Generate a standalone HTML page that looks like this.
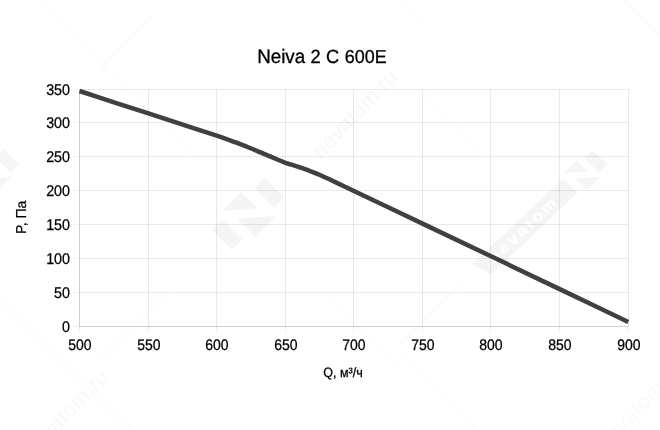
<!DOCTYPE html><html><head><meta charset="utf-8"><title>Neiva 2 C 600E</title><style>html,body{margin:0;padding:0;background:#fff}</style></head><body><svg width="660" height="430" viewBox="0 0 660 430" style="display:block;font-family:'Liberation Sans',Arial,sans-serif;text-rendering:geometricPrecision">
<rect width="660" height="430" fill="#fff"/>
<g><g transform="translate(248,214) rotate(-45) scale(1)"><polygon points="23.0,-14.0 37.5,-14.0 37.5,14.0 23.0,14.0" fill="#f5f5f5"/><polygon points="-37.0,-14.0 -22.0,-14.0 -22.0,14.0 -37.0,14.0" fill="#f5f5f5"/><polygon points="-16.5,-20.5 10.7,-20.5 10.7,2.6" fill="#f5f5f5"/><polygon points="-11.0,-4.5 18.7,21.6 -11.0,21.6" fill="#f5f5f5"/></g><g transform="translate(585,171) scale(1,0.94) rotate(-45)"><polygon points="-150,-9.8 -21.5,-9.8 -21.5,11.4 -144,11.4" fill="#f5f5f5"/><text transform="translate(-134,5.6) scale(1.12,1)" font-size="16" font-weight="bold" letter-spacing="2.4" fill="#fff">nevatom</text><polygon points="9.0,-10.0 20.8,-10.0 20.8,11.0 9.0,11.0" fill="#f5f5f5"/><polygon points="-17.0,-13.6 1.3,-13.6 1.3,2.5" fill="#f5f5f5"/><polygon points="-13.0,-1.8 6.5,15.4 -13.0,15.4" fill="#f5f5f5"/></g><g transform="translate(-4,171) scale(1,1.0) rotate(-45)"><polygon points="9.0,-10.0 20.8,-10.0 20.8,11.0 9.0,11.0" fill="#f5f5f5"/><polygon points="-13.0,-1.8 6.5,15.4 -13.0,15.4" fill="#f5f5f5"/></g><text transform="translate(321,160) scale(1,1.06) rotate(-45)" font-size="21" letter-spacing="0.5" fill="#f7f7f7">nevatom.ru</text><text transform="translate(32,460) scale(1,1.06) rotate(-45)" font-size="21" letter-spacing="0.5" fill="#f8f8f8">nevatom.ru</text><text transform="translate(606,452) scale(1,1.06) rotate(-45)" font-size="21" letter-spacing="0.5" fill="#fafafa">nevatom.ru</text><line x1="37" y1="0" x2="195" y2="158" stroke="#fafafa" stroke-width="1.2"/><line x1="153" y1="16" x2="100" y2="69" stroke="#fafafa" stroke-width="1.2"/><line x1="423" y1="93" x2="488" y2="158" stroke="#fafafa" stroke-width="1.2"/><line x1="398" y1="0" x2="423" y2="25" stroke="#fafafa" stroke-width="1.2"/><line x1="0" y1="300" x2="130" y2="430" stroke="#fafafa" stroke-width="1.2"/><line x1="170" y1="290" x2="100" y2="360" stroke="#fafafa" stroke-width="1.2"/><line x1="400" y1="355" x2="475" y2="430" stroke="#fafafa" stroke-width="1.2"/><line x1="400" y1="345" x2="462" y2="283" stroke="#fafafa" stroke-width="1.2"/><line x1="625" y1="0" x2="660" y2="35" stroke="#fafafa" stroke-width="1.2"/><line x1="330" y1="300" x2="400" y2="370" stroke="#fafafa" stroke-width="1.2"/></g>
<g><line x1="79.50" y1="89.5" x2="79.50" y2="326.5" stroke="rgba(0,0,0,0.19)" stroke-width="1"/><line x1="79.50" y1="326.5" x2="79.50" y2="332.5" stroke="rgba(0,0,0,0.05)" stroke-width="1"/><line x1="148.50" y1="89.5" x2="148.50" y2="326.5" stroke="rgba(0,0,0,0.088)" stroke-width="1"/><line x1="148.50" y1="326.5" x2="148.50" y2="332.5" stroke="rgba(0,0,0,0.05)" stroke-width="1"/><line x1="216.50" y1="89.5" x2="216.50" y2="326.5" stroke="rgba(0,0,0,0.088)" stroke-width="1"/><line x1="216.50" y1="326.5" x2="216.50" y2="332.5" stroke="rgba(0,0,0,0.05)" stroke-width="1"/><line x1="285.50" y1="89.5" x2="285.50" y2="326.5" stroke="rgba(0,0,0,0.088)" stroke-width="1"/><line x1="285.50" y1="326.5" x2="285.50" y2="332.5" stroke="rgba(0,0,0,0.05)" stroke-width="1"/><line x1="353.50" y1="89.5" x2="353.50" y2="326.5" stroke="rgba(0,0,0,0.088)" stroke-width="1"/><line x1="353.50" y1="326.5" x2="353.50" y2="332.5" stroke="rgba(0,0,0,0.05)" stroke-width="1"/><line x1="422.50" y1="89.5" x2="422.50" y2="326.5" stroke="rgba(0,0,0,0.088)" stroke-width="1"/><line x1="422.50" y1="326.5" x2="422.50" y2="332.5" stroke="rgba(0,0,0,0.05)" stroke-width="1"/><line x1="490.50" y1="89.5" x2="490.50" y2="326.5" stroke="rgba(0,0,0,0.088)" stroke-width="1"/><line x1="490.50" y1="326.5" x2="490.50" y2="332.5" stroke="rgba(0,0,0,0.05)" stroke-width="1"/><line x1="559.50" y1="89.5" x2="559.50" y2="326.5" stroke="rgba(0,0,0,0.088)" stroke-width="1"/><line x1="559.50" y1="326.5" x2="559.50" y2="332.5" stroke="rgba(0,0,0,0.05)" stroke-width="1"/><line x1="628.50" y1="89.5" x2="628.50" y2="326.5" stroke="rgba(0,0,0,0.088)" stroke-width="1"/><line x1="628.50" y1="326.5" x2="628.50" y2="332.5" stroke="rgba(0,0,0,0.05)" stroke-width="1"/><line x1="79.5" y1="89.50" x2="628.5" y2="89.50" stroke="rgba(0,0,0,0.088)" stroke-width="1"/><line x1="73.5" y1="89.50" x2="79.5" y2="89.50" stroke="rgba(0,0,0,0.05)" stroke-width="1"/><line x1="79.5" y1="122.50" x2="628.5" y2="122.50" stroke="rgba(0,0,0,0.088)" stroke-width="1"/><line x1="73.5" y1="122.50" x2="79.5" y2="122.50" stroke="rgba(0,0,0,0.05)" stroke-width="1"/><line x1="79.5" y1="156.50" x2="628.5" y2="156.50" stroke="rgba(0,0,0,0.088)" stroke-width="1"/><line x1="73.5" y1="156.50" x2="79.5" y2="156.50" stroke="rgba(0,0,0,0.05)" stroke-width="1"/><line x1="79.5" y1="190.50" x2="628.5" y2="190.50" stroke="rgba(0,0,0,0.088)" stroke-width="1"/><line x1="73.5" y1="190.50" x2="79.5" y2="190.50" stroke="rgba(0,0,0,0.05)" stroke-width="1"/><line x1="79.5" y1="224.50" x2="628.5" y2="224.50" stroke="rgba(0,0,0,0.088)" stroke-width="1"/><line x1="73.5" y1="224.50" x2="79.5" y2="224.50" stroke="rgba(0,0,0,0.05)" stroke-width="1"/><line x1="79.5" y1="258.50" x2="628.5" y2="258.50" stroke="rgba(0,0,0,0.088)" stroke-width="1"/><line x1="73.5" y1="258.50" x2="79.5" y2="258.50" stroke="rgba(0,0,0,0.05)" stroke-width="1"/><line x1="79.5" y1="292.50" x2="628.5" y2="292.50" stroke="rgba(0,0,0,0.088)" stroke-width="1"/><line x1="73.5" y1="292.50" x2="79.5" y2="292.50" stroke="rgba(0,0,0,0.05)" stroke-width="1"/><line x1="79.5" y1="326.50" x2="628.5" y2="326.50" stroke="rgba(0,0,0,0.19)" stroke-width="1"/><line x1="73.5" y1="326.50" x2="79.5" y2="326.50" stroke="rgba(0,0,0,0.05)" stroke-width="1"/></g>
<path d="M79.50 91.00 C85.25 92.88 102.50 98.57 114.00 102.30 C125.50 106.03 137.17 109.73 148.50 113.40 C159.83 117.07 170.63 120.58 182.00 124.30 C193.37 128.02 207.87 132.72 216.70 135.70 C225.53 138.68 229.45 140.15 235.00 142.20 C240.55 144.25 245.73 146.30 250.00 148.00 C254.27 149.70 257.07 150.92 260.60 152.40 C264.13 153.88 267.05 155.15 271.20 156.90 C275.35 158.65 283.12 161.90 285.50 162.90 L285.50 162.90 C286.65 163.23 289.48 163.98 292.40 164.90 C295.32 165.82 299.47 167.15 303.00 168.40 C306.53 169.65 310.77 171.30 313.60 172.40 C316.43 173.50 317.55 173.93 320.00 175.00 C322.45 176.07 324.97 177.23 328.30 178.80 C331.63 180.37 335.73 182.37 340.00 184.40 C344.27 186.43 340.15 184.47 353.90 191.00 C367.65 197.53 399.63 212.72 422.50 223.60 C445.37 234.48 468.23 245.38 491.10 256.30 C513.97 267.23 536.83 278.20 559.70 289.15 C582.57 300.10 616.87 316.52 628.30 322.00" fill="none" stroke="#404040" stroke-width="4.5" stroke-linejoin="round"/>
<text transform="translate(0,62.7) scale(1,1.04)" font-size="18.3" fill="#000" stroke="#000" stroke-width="0.3"><tspan x="257.2" font-size="18.8">Neiva</tspan> <tspan x="310.5">2</tspan> <tspan x="326.0">C</tspan> <tspan x="344.8" font-size="17.9">600E</tspan></text>
<text transform="translate(70.00,94.70) scale(1,1.09)" font-size="14.3" text-anchor="end" fill="#000" stroke="#000" stroke-width="0.25">350</text>
<text transform="translate(70.00,127.70) scale(1,1.09)" font-size="14.3" text-anchor="end" fill="#000" stroke="#000" stroke-width="0.25">300</text>
<text transform="translate(70.00,161.70) scale(1,1.09)" font-size="14.3" text-anchor="end" fill="#000" stroke="#000" stroke-width="0.25">250</text>
<text transform="translate(70.00,195.70) scale(1,1.09)" font-size="14.3" text-anchor="end" fill="#000" stroke="#000" stroke-width="0.25">200</text>
<text transform="translate(70.00,229.70) scale(1,1.09)" font-size="14.3" text-anchor="end" fill="#000" stroke="#000" stroke-width="0.25">150</text>
<text transform="translate(70.00,263.70) scale(1,1.09)" font-size="14.3" text-anchor="end" fill="#000" stroke="#000" stroke-width="0.25">100</text>
<text transform="translate(70.00,297.70) scale(1,1.09)" font-size="14.3" text-anchor="end" fill="#000" stroke="#000" stroke-width="0.25">50</text>
<text transform="translate(70.00,331.70) scale(1,1.09)" font-size="14.3" text-anchor="end" fill="#000" stroke="#000" stroke-width="0.25">0</text>
<text transform="translate(79.80,349.70) scale(1,1.09)" font-size="14" text-anchor="middle" fill="#000" stroke="#000" stroke-width="0.25">500</text>
<text transform="translate(148.80,349.70) scale(1,1.09)" font-size="14" text-anchor="middle" fill="#000" stroke="#000" stroke-width="0.25">550</text>
<text transform="translate(216.80,349.70) scale(1,1.09)" font-size="14" text-anchor="middle" fill="#000" stroke="#000" stroke-width="0.25">600</text>
<text transform="translate(285.80,349.70) scale(1,1.09)" font-size="14" text-anchor="middle" fill="#000" stroke="#000" stroke-width="0.25">650</text>
<text transform="translate(353.80,349.70) scale(1,1.09)" font-size="14" text-anchor="middle" fill="#000" stroke="#000" stroke-width="0.25">700</text>
<text transform="translate(422.80,349.70) scale(1,1.09)" font-size="14" text-anchor="middle" fill="#000" stroke="#000" stroke-width="0.25">750</text>
<text transform="translate(490.80,349.70) scale(1,1.09)" font-size="14" text-anchor="middle" fill="#000" stroke="#000" stroke-width="0.25">800</text>
<text transform="translate(559.80,349.70) scale(1,1.09)" font-size="14" text-anchor="middle" fill="#000" stroke="#000" stroke-width="0.25">850</text>
<text transform="translate(628.80,349.70) scale(1,1.09)" font-size="14" text-anchor="middle" fill="#000" stroke="#000" stroke-width="0.25">900</text>
<text transform="translate(343.00,376.70) scale(1,1.08)" font-size="12.5" text-anchor="middle" fill="#000" stroke="#000" stroke-width="0.25">Q, м³/ч</text>
<text transform="translate(26.0,217.3) scale(1.03,1) rotate(-90)" font-size="14" text-anchor="middle" fill="#000" stroke="#000" stroke-width="0.2">P, Па</text>
</svg></body></html>
